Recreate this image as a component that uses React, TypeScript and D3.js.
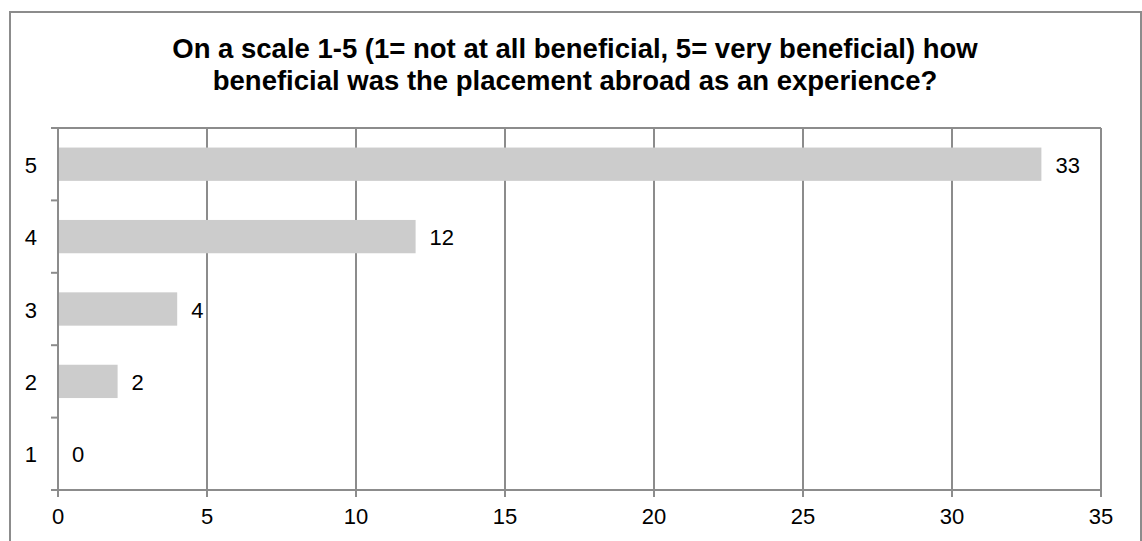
import React from "react";
import * as d3 from "d3";

const categories = ["5", "4", "3", "2", "1"];
const values = [33, 12, 4, 2, 0];
const xTicks = [0, 5, 10, 15, 20, 25, 30, 35];
const titleLines = [
  "On a scale 1-5 (1= not at all beneficial, 5= very beneficial) how",
  "beneficial was the placement abroad as an experience?",
];

const W = 1142;
const H = 541;
const left = 58;
const right = 1101;
const top = 128;
const bottom = 490;
const gridColor = "#8c8c8c";
const font = "Liberation Sans, Arial, sans-serif";
const fs = 22;

export default function App() {
  const x = d3.scaleLinear().domain([0, 35]).range([left, right]);
  const y = d3.scaleBand().domain(categories).range([top, bottom]).paddingInner(0.54).paddingOuter(0.27);
  const yb = d3.scaleBand().domain(categories).range([top, bottom]);
  const boundaries = categories.map((c) => yb(c) as number).concat([bottom]);
  return (
    <svg width={W} height={H} style={{ position: "absolute", left: 0, top: 0 }}>
      <rect x={0} y={0} width={W} height={H} fill="#fff" />
      <rect x={10} y={12} width={1131} height={H + 20} fill="none" stroke={gridColor} strokeWidth={2} />
      {titleLines.map((t, i) => (
        <text key={i} x={575} y={58 + i * 32} textAnchor="middle" fontFamily={font} fontWeight="bold" fontSize={27.5} fill="#000">
          {t}
        </text>
      ))}
      {xTicks.map((t) => (
        <g key={t}>
          <line x1={x(t)} x2={x(t)} y1={top} y2={bottom + 7} stroke={gridColor} strokeWidth={2} />
          <text x={x(t)} y={524} textAnchor="middle" fontFamily={font} fontSize={fs} fill="#000">
            {t}
          </text>
        </g>
      ))}
      {boundaries.map((b, i) => (
        <line key={i} x1={left - 7} x2={left} y1={b} y2={b} stroke={gridColor} strokeWidth={2} />
      ))}
      <line x1={left - 7} x2={right} y1={top} y2={top} stroke={gridColor} strokeWidth={2} />
      <line x1={left - 7} x2={right} y1={bottom} y2={bottom} stroke={gridColor} strokeWidth={2} />
      {categories.map((c, i) => {
        const yc = (yb(c) as number) + yb.bandwidth() / 2;
        return (
          <g key={c}>
            <rect x={x(0) + 1} y={y(c)} width={Math.max(0, x(values[i]) - x(0) - 1)} height={y.bandwidth()} fill="#cccccc" />
            <text x={x(values[i]) + 14} y={yc + 8.5} fontFamily={font} fontSize={fs} fill="#000">
              {values[i]}
            </text>
            <text x={37} y={yc + 8.5} textAnchor="end" fontFamily={font} fontSize={fs} fill="#000">
              {c}
            </text>
          </g>
        );
      })}
    </svg>
  );
}
